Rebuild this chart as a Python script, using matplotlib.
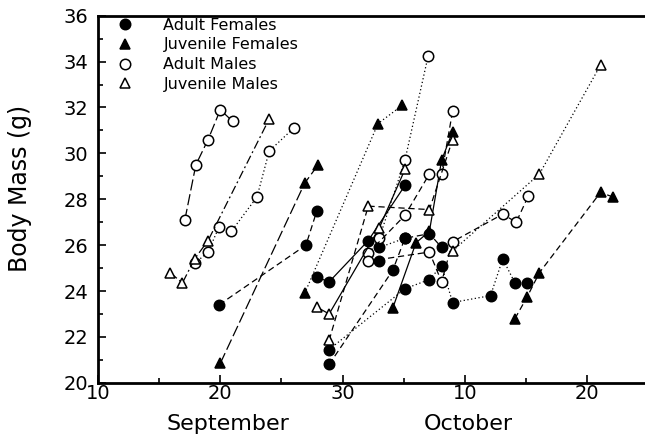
import matplotlib.pyplot as plt
from matplotlib.ticker import MultipleLocator

# days counted from 1 September (1 October = 31)
# adult females
af1_day = [19.9, 27.0, 27.9]
af1_mass = [23.4, 26.0, 27.5]
af2_day = [27.9, 28.9, 32.1, 35.1]
af2_mass = [24.6, 24.4, 26.2, 28.6]
af3_day = [28.9, 34.1, 35.1, 37.1, 38.1]
af3_mass = [20.8, 24.9, 26.3, 26.5, 25.9]
af4_day = [28.9, 35.1, 37.1, 38.1, 39.0, 42.1, 43.1, 44.1, 45.1]
af4_mass = [21.45, 24.1, 24.5, 25.1, 23.5, 23.8, 25.4, 24.35, 24.35]
af5_day = [33.0]
af5_mass = [25.3]
af6_day = [33.0, 35.1]
af6_mass = [25.9, 26.3]

# juvenile females
jf1_day = [20.0, 26.9, 28.0]
jf1_mass = [20.85, 28.7, 29.5]
jf2_day = [26.9, 32.9, 34.9]
jf2_mass = [23.9, 31.3, 32.1]
jf3_day = [34.1, 36.0, 37.1, 38.1, 39.0]
jf3_mass = [23.25, 26.1, 26.6, 29.7, 30.95]
jf4_day = [44.1, 45.1, 46.1, 51.1, 52.1]
jf4_mass = [22.8, 23.75, 24.8, 28.3, 28.1]

# adult males
am1_day = [17.1, 18.0, 19.0, 20.0, 21.0]
am1_mass = [27.1, 29.5, 30.6, 31.9, 31.4]
am2_day = [17.9, 19.0, 19.9, 20.9, 23.0, 24.0, 26.0]
am2_mass = [25.2, 25.7, 26.8, 26.6, 28.1, 30.1, 31.1]
am3_day = [33.0, 35.1, 37.0]
am3_mass = [26.3, 29.7, 34.25]
am4_day = [32.1, 35.1, 37.1, 38.1, 39.0]
am4_mass = [25.65, 27.3, 29.1, 29.1, 31.85]
am5_day = [32.1, 37.1, 38.1, 39.0, 43.1, 44.2, 45.2]
am5_mass = [25.3, 25.7, 24.4, 26.15, 27.35, 27.0, 28.15]

# juvenile males
jm1_day = [15.9, 16.9, 17.9, 19.0, 24.0]
jm1_mass = [24.8, 24.35, 25.4, 26.2, 31.5]
jm2_day = [27.9, 28.9, 33.0, 35.1]
jm2_mass = [23.3, 23.0, 26.75, 29.3]
jm3_day = [28.9, 32.1, 37.1, 39.0]
jm3_mass = [21.85, 27.7, 27.55, 30.6]
jm4_day = [39.0, 46.1, 51.1]
jm4_mass = [25.75, 29.1, 33.85]

tick_pos = [10, 20, 30, 40, 50]
tick_labels = ["10", "20", "30", "10", "20"]

dash = (0, (5, 3))
longdash = (0, (9, 3))
dashdot = (0, (7, 2.5, 1.5, 2.5))
dotted = (0, (1, 2))

tracks = [
    (af1_day, af1_mass, "o", "k", dash),
    (af2_day, af2_mass, "o", "k", "-"),
    (af3_day, af3_mass, "o", "k", dash),
    (af4_day, af4_mass, "o", "k", dotted),
    (af5_day, af5_mass, "o", "k", dash),
    (af6_day, af6_mass, "o", "k", dotted),
    (jf1_day, jf1_mass, "^", "k", longdash),
    (jf2_day, jf2_mass, "^", "k", dotted),
    (jf3_day, jf3_mass, "^", "k", "-"),
    (jf4_day, jf4_mass, "^", "k", dash),
    (am1_day, am1_mass, "o", "w", longdash),
    (am2_day, am2_mass, "o", "w", dotted),
    (am3_day, am3_mass, "o", "w", dotted),
    (am4_day, am4_mass, "o", "w", dash),
    (am5_day, am5_mass, "o", "w", dash),
    (jm1_day, jm1_mass, "^", "w", dashdot),
    (jm2_day, jm2_mass, "^", "w", "-"),
    (jm3_day, jm3_mass, "^", "w", dash),
    (jm4_day, jm4_mass, "^", "w", dotted),
]

fig = plt.figure(figsize=(6.45, 4.36), dpi=100)
ax = fig.add_axes([0.152, 0.122, 0.872, 0.842])

for day, mass, mk, fc, ls in tracks:
    ax.plot(day, mass, color="k", lw=0.9, linestyle=ls, marker=mk,
            markersize=7.5, markerfacecolor=fc, markeredgecolor="k",
            markeredgewidth=1.1, clip_on=False)

# legend (markers only)
legend_items = [("o", "k", "Adult Females"), ("^", "k", "Juvenile Females"),
                ("o", "w", "Adult Males"), ("^", "w", "Juvenile Males")]
for mk, fc, lab in legend_items:
    ax.plot([], [], linestyle="none", marker=mk, markersize=7.5,
            markerfacecolor=fc, markeredgecolor="k", markeredgewidth=1.1,
            color="k", label=lab)
ax.legend(loc="upper left", frameon=False, fontsize=11.5, handlelength=1.0,
          handletextpad=1.9, labelspacing=0.3, borderpad=0, borderaxespad=0,
          bbox_to_anchor=(0.034, 0.995))

ax.set_xlim(10, 56)
ax.set_ylim(20, 36)
ax.xaxis.set_minor_locator(MultipleLocator(5))
ax.yaxis.set_major_locator(MultipleLocator(2))
ax.yaxis.set_minor_locator(MultipleLocator(1))
ax.set_xticks(tick_pos, tick_labels)
ax.tick_params(which="both", direction="in", width=1.2, labelsize=14)
ax.tick_params(which="major", length=6)
ax.tick_params(which="minor", length=3.5)
ax.tick_params(axis="x", pad=1)
ax.tick_params(axis="y", pad=7)
for s in ["left", "bottom", "top"]:
    ax.spines[s].set_linewidth(2)
ax.spines["right"].set_visible(False)

fig.text(20 / 645, 1 - 188 / 436, "Body Mass (g)", rotation=90,
         ha="center", va="center", fontsize=17)
ax.text(20.6, -0.085, "September", transform=ax.get_xaxis_transform(),
        ha="center", va="top", fontsize=16)
ax.text(40.3, -0.085, "October", transform=ax.get_xaxis_transform(),
        ha="center", va="top", fontsize=16)

fig.savefig("out.png", dpi=100)
